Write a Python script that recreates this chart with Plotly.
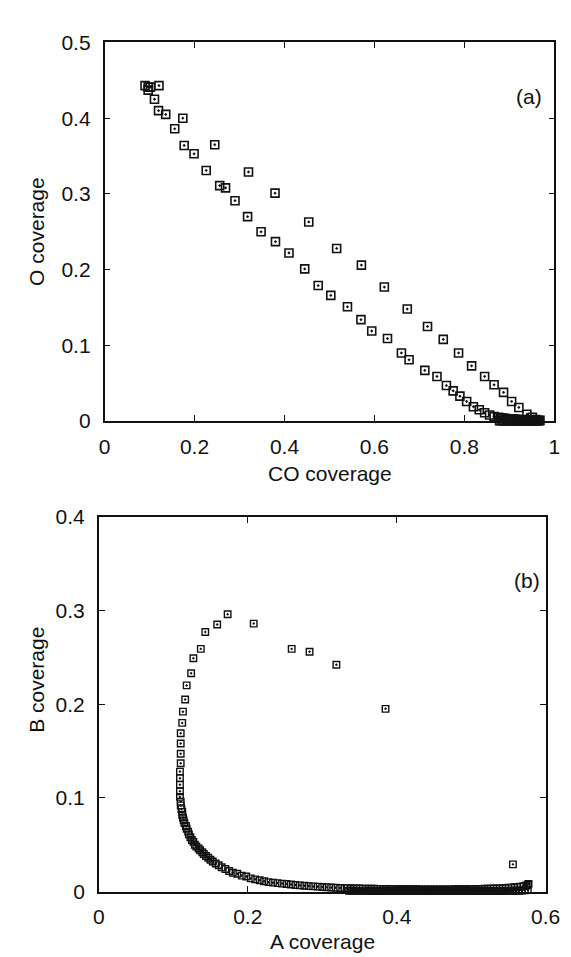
import plotly.graph_objects as go

# ---------------- Panel (a): CO / O coverage ----------------
co_upper = [0.121, 0.174, 0.245, 0.320, 0.379, 0.454, 0.516, 0.571, 0.622, 0.673,
            0.718, 0.753, 0.787, 0.816, 0.845, 0.866, 0.887, 0.905, 0.921, 0.939,
            0.951, 0.958]
o_upper = [0.443, 0.400, 0.365, 0.329, 0.301, 0.263, 0.228, 0.206, 0.177, 0.148,
           0.125, 0.108, 0.090, 0.073, 0.059, 0.048, 0.038, 0.026, 0.018, 0.009,
           0.005, 0.002]

co_lower = [0.090, 0.097, 0.102, 0.097, 0.111, 0.120, 0.136, 0.156, 0.177, 0.199,
            0.226, 0.256, 0.269, 0.290, 0.318, 0.348, 0.380, 0.410, 0.445, 0.475,
            0.503, 0.540, 0.570, 0.594, 0.629, 0.660, 0.677, 0.712, 0.739, 0.760,
            0.775, 0.790, 0.805, 0.820, 0.833, 0.845, 0.856, 0.866,
            0.876, 0.880, 0.884, 0.888, 0.892, 0.896, 0.900, 0.904, 0.908, 0.912,
            0.916, 0.920, 0.924, 0.928, 0.932, 0.936, 0.940, 0.944, 0.948, 0.952,
            0.956, 0.960, 0.964, 0.968,
            0.878, 0.882, 0.886, 0.890, 0.894, 0.898, 0.902, 0.906, 0.910, 0.914,
            0.918, 0.922, 0.926, 0.930, 0.934, 0.938, 0.942, 0.946, 0.950, 0.954,
            0.958, 0.962, 0.966]
o_lower = [0.443, 0.441, 0.441, 0.437, 0.425, 0.410, 0.405, 0.386, 0.364, 0.353,
           0.331, 0.311, 0.308, 0.291, 0.270, 0.250, 0.237, 0.222, 0.201, 0.179,
           0.166, 0.151, 0.134, 0.119, 0.109, 0.090, 0.081, 0.067, 0.059, 0.047,
           0.040, 0.033, 0.026, 0.019, 0.015, 0.011, 0.008, 0.006,
           0.0050, 0.0045, 0.0040, 0.0038, 0.0035, 0.0032, 0.0030, 0.0028, 0.0026, 0.0024,
           0.0022, 0.0020, 0.0020, 0.0018, 0.0016, 0.0015, 0.0014, 0.0013, 0.0012, 0.0011,
           0.0010, 0.0010, 0.0010, 0.0010,
           0.0006, 0.0006, 0.0005, 0.0005, 0.0005, 0.0005, 0.0005, 0.0005, 0.0005, 0.0005,
           0.0005, 0.0005, 0.0005, 0.0005, 0.0005, 0.0005, 0.0005, 0.0005, 0.0005, 0.0005,
           0.0005, 0.0005, 0.0005]

# ---------------- Panel (b): A / B coverage ----------------
a_cov = [0.385, 0.319, 0.283, 0.259, 0.208, 0.173, 0.159, 0.143, 0.137, 0.127,
         0.124, 0.118, 0.116, 0.113, 0.112, 0.110, 0.110, 0.110, 0.110, 0.109,
         0.109, 0.109, 0.109, 0.109,
         0.110, 0.110, 0.111, 0.112, 0.112, 0.113, 0.114, 0.115, 0.117, 0.118,
         0.120, 0.121, 0.123, 0.125, 0.127, 0.129, 0.131, 0.134, 0.136, 0.139,
         0.141, 0.144, 0.147, 0.150, 0.153, 0.157, 0.161, 0.165, 0.170, 0.175,
         0.180, 0.186, 0.192, 0.198, 0.204, 0.210, 0.216, 0.222, 0.228, 0.234,
         0.240, 0.246, 0.252, 0.258, 0.264, 0.270, 0.276, 0.282, 0.288, 0.294,
         0.300, 0.306, 0.312, 0.318, 0.324, 0.330,
         0.334, 0.338, 0.342, 0.346, 0.350, 0.354, 0.358, 0.362, 0.366, 0.370,
         0.374, 0.378, 0.382, 0.386, 0.390, 0.394, 0.398, 0.402, 0.406, 0.410,
         0.414, 0.418, 0.422, 0.426, 0.430, 0.434, 0.438, 0.442, 0.446, 0.450,
         0.454, 0.458, 0.462, 0.466, 0.470, 0.474, 0.478, 0.482, 0.486, 0.490,
         0.494, 0.498, 0.502, 0.506, 0.510, 0.514, 0.518, 0.522, 0.526, 0.530,
         0.534, 0.538, 0.542, 0.546, 0.550, 0.554, 0.558, 0.562, 0.566, 0.570,
         0.574, 0.576, 0.577,
         0.336, 0.340, 0.344, 0.348, 0.352, 0.356, 0.360, 0.364, 0.368, 0.372,
         0.376, 0.380, 0.384, 0.388, 0.392, 0.396, 0.400, 0.404, 0.408, 0.412,
         0.416, 0.420, 0.424, 0.428, 0.432, 0.436, 0.440, 0.444, 0.448, 0.452,
         0.456, 0.460, 0.464, 0.468, 0.472, 0.476, 0.480, 0.484, 0.488, 0.492,
         0.496, 0.500, 0.504, 0.508, 0.512, 0.516, 0.520, 0.524, 0.528, 0.532,
         0.536, 0.540, 0.544, 0.548, 0.552, 0.556, 0.560, 0.564, 0.568, 0.572,
         0.576, 0.556]
b_cov = [0.195, 0.242, 0.256, 0.259, 0.286, 0.296, 0.285, 0.277, 0.259, 0.249,
         0.233, 0.220, 0.205, 0.192, 0.180, 0.169, 0.158, 0.147, 0.137, 0.128,
         0.121, 0.114, 0.107, 0.101,
         0.096, 0.092, 0.088, 0.085, 0.082, 0.079, 0.076, 0.073, 0.070, 0.067,
         0.064, 0.061, 0.058, 0.055, 0.053, 0.050, 0.048, 0.046, 0.044, 0.042,
         0.040, 0.038, 0.036, 0.034, 0.032, 0.030, 0.028, 0.026, 0.024, 0.022,
         0.020, 0.019, 0.017, 0.016, 0.014, 0.013, 0.012, 0.011, 0.010, 0.0095,
         0.0090, 0.0085, 0.0080, 0.0075, 0.0070, 0.0066, 0.0062, 0.0058, 0.0055, 0.0052,
         0.0049, 0.0046, 0.0043, 0.0040, 0.0038, 0.0036,
         0.0036, 0.0035, 0.0034, 0.0033, 0.0032, 0.0031, 0.0030, 0.0030, 0.0029, 0.0029,
         0.0028, 0.0028, 0.0027, 0.0027, 0.0026, 0.0026, 0.0026, 0.0025, 0.0025, 0.0025,
         0.0024, 0.0024, 0.0024, 0.0024, 0.0023, 0.0023, 0.0023, 0.0023, 0.0023, 0.0023,
         0.0023, 0.0023, 0.0023, 0.0023, 0.0023, 0.0023, 0.0024, 0.0024, 0.0024, 0.0025,
         0.0025, 0.0026, 0.0026, 0.0027, 0.0027, 0.0028, 0.0029, 0.0030, 0.0031, 0.0032,
         0.0033, 0.0034, 0.0036, 0.0038, 0.0040, 0.0042, 0.0045, 0.0048, 0.0052, 0.0058,
         0.0064, 0.0072, 0.0082,
         0.0008, 0.0008, 0.0007, 0.0007, 0.0007, 0.0007, 0.0006, 0.0006, 0.0006, 0.0006,
         0.0006, 0.0006, 0.0006, 0.0005, 0.0005, 0.0005, 0.0005, 0.0005, 0.0005, 0.0005,
         0.0005, 0.0005, 0.0005, 0.0005, 0.0005, 0.0005, 0.0005, 0.0005, 0.0005, 0.0005,
         0.0005, 0.0005, 0.0005, 0.0005, 0.0005, 0.0005, 0.0005, 0.0005, 0.0005, 0.0005,
         0.0005, 0.0005, 0.0005, 0.0005, 0.0005, 0.0005, 0.0005, 0.0005, 0.0005, 0.0006,
         0.0006, 0.0006, 0.0006, 0.0007, 0.0007, 0.0008, 0.0008, 0.0009, 0.0010, 0.0012,
         0.0016, 0.029]

xa_ticks = [0, 0.2, 0.4, 0.6, 0.8, 1.0]
xa_text = ["0", "0.2", "0.4", "0.6", "0.8", "1"]
ya_ticks = [0, 0.1, 0.2, 0.3, 0.4, 0.5]
ya_text = ["0", "0.1", "0.2", "0.3", "0.4", "0.5"]
xb_ticks = [0, 0.2, 0.4, 0.6]
xb_text = ["0", "0.2", "0.4", "0.6"]
yb_ticks = [0, 0.1, 0.2, 0.3, 0.4]
yb_text = ["0", "0.1", "0.2", "0.3", "0.4"]

W, H = 571, 957
FONT = "Liberation Sans, Arial, Helvetica, sans-serif"
INK = "#111111"

def px(x):
    return x / W

def py(y):
    return 1 - y / H

fig = go.Figure()

mk_a = dict(symbol="square-open-dot", size=8, color=INK, line=dict(width=1.6, color=INK))
mk_b = dict(symbol="square-open-dot", size=6.5, color=INK, line=dict(width=1.4, color=INK))

fig.add_trace(go.Scatter(x=co_upper, y=o_upper, mode="markers", marker=mk_a,
                         xaxis="x", yaxis="y", cliponaxis=False, showlegend=False))
fig.add_trace(go.Scatter(x=co_lower, y=o_lower, mode="markers", marker=mk_a,
                         xaxis="x", yaxis="y", cliponaxis=False, showlegend=False))
fig.add_trace(go.Scatter(x=a_cov, y=b_cov, mode="markers", marker=mk_b,
                         xaxis="x2", yaxis="y2", cliponaxis=False, showlegend=False))

axis_common = dict(showline=True, linecolor=INK, linewidth=1.5, mirror="ticks",
                   ticks="inside", ticklen=6, tickwidth=1.3, tickcolor=INK,
                   showgrid=False, zeroline=False, tickmode="array",
                   tickfont=dict(family=FONT, size=21, color=INK))

fig.update_layout(
    width=W, height=H,
    margin=dict(l=0, r=0, t=0, b=0),
    paper_bgcolor="white", plot_bgcolor="white",
    xaxis=dict(domain=[px(94), px(561)], range=[0, 1], anchor="y",
               tickvals=xa_ticks, ticktext=xa_text, ticklabelstandoff=6, **axis_common),
    yaxis=dict(domain=[py(411), py(23)], range=[0, 0.5], anchor="x",
               tickvals=ya_ticks, ticktext=ya_text, ticklabelstandoff=8, **axis_common),
    xaxis2=dict(domain=[px(88), px(552)], range=[0, 0.6], anchor="y2",
                tickvals=xb_ticks, ticktext=xb_text, ticklabelstandoff=6, **axis_common),
    yaxis2=dict(domain=[py(893), py(509)], range=[0, 0.4], anchor="x2",
                tickvals=yb_ticks, ticktext=yb_text, ticklabelstandoff=8, **axis_common),
)

tfont = dict(family=FONT, size=21, color=INK)
annots = [
    dict(text="O coverage", x=px(24), y=py(217), textangle=-90),
    dict(text="CO coverage", x=px(328), y=py(465)),
    dict(text="(a)", x=px(535), y=py(78)),
    dict(text="B coverage", x=px(24), y=py(676), textangle=-90),
    dict(text="A coverage", x=px(320), y=py(944)),
    dict(text="(b)", x=px(533), y=py(574)),
]
for a in annots:
    fig.add_annotation(xref="paper", yref="paper", showarrow=False,
                       xanchor="center", yanchor="middle", font=tfont, **a)

fig.write_html("out.html")
